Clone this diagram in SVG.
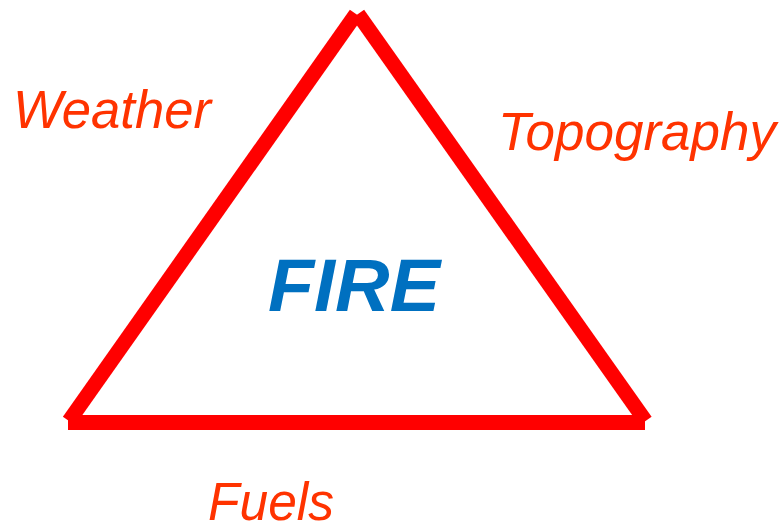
<svg xmlns="http://www.w3.org/2000/svg" width="783" height="525" viewBox="0 0 783 525">
<style>
.side{stroke:#FF0000;stroke-width:15;stroke-linecap:butt;fill:none}
.lbl{font-family:"Liberation Sans",Arial,sans-serif;font-style:italic;fill:#FF3300}
.fire{font-family:"Liberation Sans",Arial,sans-serif;font-style:italic;font-weight:bold;fill:#0070C0}
</style>
<rect width="783" height="525" fill="#FFFFFF"/>
<g id="connectors">
<line class="side" x1="356" y1="14" x2="69" y2="421"/>
<line class="side" x1="358" y1="14" x2="645.5" y2="421"/>
<line class="side" x1="68" y1="422.5" x2="645" y2="422.5"/>
</g>
<g id="fire"><text class="fire" x="268" y="311" font-size="74" textLength="172" lengthAdjust="spacingAndGlyphs">FIRE</text></g>
<g id="weather"><text class="lbl" x="13" y="128" font-size="54" textLength="198" lengthAdjust="spacingAndGlyphs">Weather</text></g>
<g id="topography"><text class="lbl" x="498" y="150" font-size="54" textLength="278" lengthAdjust="spacingAndGlyphs">Topography</text></g>
<g id="fuels"><text class="lbl" x="208" y="520" font-size="54" textLength="126" lengthAdjust="spacingAndGlyphs">Fuels</text></g>
</svg>
